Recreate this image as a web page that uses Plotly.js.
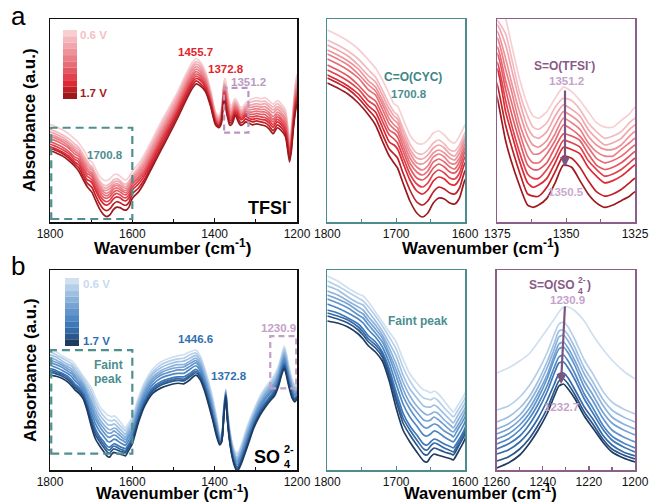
<!DOCTYPE html>
<html><head><meta charset="utf-8">
<script src="https://cdn.plot.ly/plotly-3.0.1.min.js"></script>
<style>html,body{margin:0;padding:0;background:#fff}#chart{width:651px;height:503px}</style>
</head><body><div id="chart"></div>
<script>
// ---------- colours (0.6 V -> 1.7 V) ----------
const redColors = ['#f7cfd2','#f4b9be','#f0a6ac','#ed939a','#e98088','#e66c75','#e35862','#e0434e','#dc2a35','#bf1f27','#9c1a1e'];
const blueColors = ['#cfe0f1','#b5cfe9','#9fc0e2','#8ab2da','#76a3d3','#6295cb','#4f87c3','#3f78b8','#336aa8','#2a5689','#1f3b5f'];

// ---------- TFSI- spectra: one row per wavenumber, 11 values (0.6 V ... 1.7 V) ----------
const tfsiWavenumber = [1800,1785,1770,1755,1740,1730,1720,1710,1703,1698,1690,1680,1670,1662,1654,1646,1638,1630,1622,1615,1608,1600,
  1585,1570,1550,1530,1510,1490,1470,1455,1445,1435,1422,1410,1398,1390,1384,1380,1377,
  1375,1372,1370,1367,1364,1362,1360,1357,1354,1351,1348,1345,1342,1339,1336,1333,1330,1327,1325,
  1318,1308,1298,1288,1278,1268,1258,1248,1238,1228,1222,1218,1214,1209,1204,1200];
const tfsiAbs = [
  [192,182,177,172,168,163,157,152,147,144,139],
  [187,177,172,167,163,158,152,147,142,139,134],
  [181,171,166,161,157,152,146,141,136,133,128],
  [173,163,157,153,148,144,137,133,128,124,119],
  [162,152,146,141,137,132,126,121,116,112,107],
  [154,145,140,135,131,127,121,116,110,104,97],
  [142,132,127,122,118,113,107,101,95,88,81],
  [128,118,113,108,103,98,92,87,80,73,66],
  [118,110,106,102,97,93,89,83,77,68,59],
  [116,107,103,99,94,90,85,79,73,64,54],
  [103,94,90,85,81,76,71,65,59,49,39],
  [87,78,73,69,64,59,54,48,42,32,21],
  [79,69,64,59,55,50,44,38,31,20,9],
  [78,68,63,58,52,47,42,35,28,17,5],
  [82,72,67,62,56,51,46,39,32,21,9],
  [89,79,74,69,65,60,54,48,41,30,19],
  [91,82,77,72,68,63,58,52,45,35,24],
  [87,78,74,69,65,60,55,49,43,33,23],
  [81,72,68,64,59,55,50,44,38,29,19],
  [79,71,66,62,58,53,49,43,37,28,18],
  [86,77,73,69,64,60,55,49,43,34,24],
  [97,89,85,82,78,74,70,65,59,51,42],
  [112,105,100,96,91,86,82,77,71,63,55],
  [132,126,120,114,109,103,98,93,88,81,75],
  [164,158,152,147,141,135,130,125,120,114,108],
  [197,191,185,179,174,168,163,158,153,146,140],
  [227,221,215,210,204,199,194,189,184,178,172],
  [258,252,247,242,236,231,226,221,217,211,205],
  [294,288,283,277,272,267,262,257,252,246,240],
  [317,311,306,301,295,290,285,280,276,270,264],
  [325,319,314,309,304,299,294,290,285,280,274],
  [319,314,309,304,299,294,290,285,281,275,270],
  [298,294,290,286,282,278,274,270,267,262,258],
  [262,258,255,252,248,245,242,239,236,233,229],
  [217,214,212,209,206,204,201,199,197,194,191],
  [209,206,204,202,199,197,195,192,190,188,185],
  [221,218,215,212,210,207,204,202,199,196,193],
  [252,249,246,244,241,238,236,233,231,228,225],
  [280,276,273,270,267,263,260,257,254,251,247],
  [285,274,272,269,266,262,259,255,252,245,239],
  [275,268,263,257,252,247,243,238,233,227,220],
  [264,258,253,247,243,238,233,228,224,218,211],
  [248,242,238,233,228,224,220,215,211,206,200],
  [236,231,226,222,218,213,209,205,201,196,191],
  [231,226,222,218,214,210,207,203,199,195,190],
  [230,225,221,217,214,210,207,203,200,195,191],
  [233,228,224,220,217,214,210,207,203,199,194],
  [239,235,231,227,223,220,217,213,210,206,201],
  [244,239,236,233,230,227,223,220,217,213,209],
  [242,238,234,231,228,225,222,219,216,212,208],
  [238,234,231,228,225,222,220,217,214,208,202],
  [233,228,225,222,219,217,214,211,208,202,196],
  [228,224,221,218,215,212,209,207,204,197,192],
  [226,221,218,216,213,210,207,204,201,195,190],
  [226,222,219,216,213,211,208,205,202,196,191],
  [229,224,221,218,216,213,210,207,204,198,193],
  [232,228,225,222,219,216,213,210,207,201,195],
  [235,230,227,224,221,218,215,212,209,203,197],
  [240,235,230,226,221,217,213,209,205,200,195],
  [244,238,232,227,222,217,212,207,202,197,191],
  [246,240,234,229,224,219,214,209,204,199,193],
  [244,238,232,227,222,217,212,207,202,197,191],
  [246,239,234,228,222,217,212,206,201,195,189],
  [240,233,228,222,216,211,205,200,195,189,183],
  [233,227,221,215,208,202,197,191,186,179,173],
  [240,234,228,223,217,212,207,202,197,191,185],
  [233,227,222,216,211,205,201,196,191,185,179],
  [221,215,210,204,199,193,188,183,178,172,167],
  [187,181,176,171,166,161,156,152,147,142,136],
  [160,156,151,147,142,138,134,130,126,121,116],
  [181,176,171,167,162,158,154,150,146,141,136],
  [227,222,218,213,208,204,199,195,191,186,181],
  [274,268,262,256,251,245,240,235,230,223,217],
  [294,288,282,275,269,263,258,252,247,240,233]
];

// ---------- SO4 2- spectra: one row per wavenumber, 11 values (0.6 V ... 1.7 V) ----------
const sulfateWavenumber = [1800,1785,1770,1755,1748,1740,1730,1720,1710,1700,1690,1680,1670,1660,1655,1650,1645,1640,1630,1620,1617,1610,1600,
  1585,1570,1550,1530,1510,1490,1475,1460,1446,1435,1425,1415,1405,1395,1388,1383,1378,1373,1369,1364,1358,1352,1346,1340,1333,
  1320,1305,1290,1275,1265,1255,1245,1238,1231,1226,1220,1212,1205,1200];
const sulfateAbs = [
  [194,189,184,179,175,171,166,160,157,154,149],
  [189,184,180,175,171,167,162,157,154,151,147],
  [182,178,173,169,166,162,157,152,150,147,143],
  [176,172,167,163,159,155,151,146,143,140,136],
  [174,169,165,160,156,152,147,141,138,135,131],
  [168,163,158,153,149,145,140,134,131,128,124],
  [158,154,149,145,141,137,133,128,125,122,118],
  [148,144,139,135,132,128,123,118,116,113,109],
  [138,133,127,122,117,113,107,101,97,94,89],
  [128,121,114,106,100,94,86,78,73,69,62],
  [111,103,95,88,81,74,66,57,52,47,40],
  [96,89,81,74,67,61,53,44,40,35,28],
  [87,79,72,64,58,51,44,35,30,25,18],
  [80,72,64,57,50,43,35,26,21,16,9],
  [79,71,63,55,49,42,34,25,20,15,8],
  [77,70,63,56,50,44,36,28,24,19,13],
  [79,72,65,58,53,46,39,31,27,22,16],
  [77,70,63,57,51,45,38,30,26,21,15],
  [69,62,56,50,45,39,33,26,22,18,13],
  [60,55,49,44,39,35,29,23,19,16,11],
  [58,53,47,42,38,33,28,22,18,15,10],
  [65,60,55,50,45,41,35,29,26,23,18],
  [77,72,67,62,58,53,48,42,39,36,31],
  [111,106,102,97,93,89,84,78,75,72,68],
  [137,133,128,124,120,116,111,106,103,100,96],
  [160,155,151,146,142,138,133,128,125,122,118],
  [172,167,162,157,153,149,144,138,135,132,127],
  [178,173,168,163,159,154,149,143,140,137,132],
  [182,177,172,167,162,158,152,146,143,140,135],
  [184,178,173,167,163,158,152,146,142,139,134],
  [189,184,178,173,169,164,159,152,149,146,141],
  [192,187,183,178,174,170,165,159,156,153,149],
  [182,178,173,169,165,161,156,151,148,145,141],
  [163,159,154,150,146,142,138,133,130,127,123],
  [139,135,130,126,122,118,114,109,106,103,99],
  [110,106,102,98,94,90,86,81,79,76,72],
  [75,72,68,64,62,58,55,51,48,46,43],
  [48,46,44,42,40,38,36,34,32,31,29],
  [48,47,45,43,42,41,39,37,36,35,34],
  [92,90,88,86,85,83,81,79,78,77,75],
  [125,124,122,121,120,119,117,116,115,114,113],
  [89,87,85,83,82,80,78,76,75,74,72],
  [58,56,53,51,49,47,45,42,41,39,37],
  [34,31,29,26,24,22,19,16,14,12,10],
  [20,17,14,11,9,6,3,-1,-2,-4,-7],
  [15,12,8,5,2,-1,-5,-9,-11,-13,-16],
  [20,17,13,10,7,4,0,-4,-6,-8,-11],
  [34,30,27,23,20,17,13,9,7,4,1],
  [63,59,55,51,48,44,40,36,33,31,27],
  [89,86,82,79,76,73,70,65,63,61,58],
  [113,109,106,102,99,96,92,88,86,83,80],
  [130,126,123,119,116,112,109,104,102,99,96],
  [139,135,132,128,125,121,118,113,111,108,105],
  [149,145,141,137,134,130,126,122,119,117,113],
  [165,161,157,153,150,147,143,138,136,134,130],
  [182,178,175,171,168,164,161,156,154,151,148],
  [199,195,191,187,183,179,175,170,168,165,161],
  [187,183,179,175,171,167,163,158,156,153,149],
  [165,161,157,153,150,147,143,138,136,134,130],
  [142,139,135,131,129,125,122,118,115,113,110],
  [132,129,126,122,120,117,114,110,108,106,103],
  [134,131,128,125,123,121,118,114,112,111,108]
];

// ---------- SO4 2- S=O band detail: one row per curve (0.6 V ... 1.7 V) ----------
const sulfateZoomWavenumber = [1260,1255,1250,1246,1242,1238,1235,1233,1231,1229,1226,1222,1218,1214,1210,1205,1200];
const sulfateZoomAbs = [
  [97,102,109,116,128,141,151,158,163,163,159,149,134,121,110,99,91],
  [60,64,73,84,99,118,136,146,148,143,130,110,95,79,68,61,56],
  [48,53,62,73,89,109,127,139,140,135,122,102,87,71,60,53,48],
  [41,46,55,67,83,103,121,133,135,129,116,96,81,65,53,46,41],
  [36,41,50,61,77,96,115,126,128,122,109,89,74,58,47,40,35],
  [31,36,45,56,72,92,111,121,123,117,104,83,68,52,40,33,28],
  [26,31,40,51,66,85,103,113,115,109,96,76,61,45,34,27,22],
  [21,26,34,45,60,79,97,107,108,102,90,71,56,41,30,23,18],
  [16,20,28,38,52,70,86,96,97,92,80,63,50,35,25,18,14],
  [9,13,21,31,45,62,79,89,91,86,75,58,45,31,21,15,11],
  [2,7,15,26,40,57,74,84,86,81,71,54,41,28,18,12,8]
];

// ---------- drawing ----------
const W = 651, H = 503;
const FONT = 'Liberation Sans, Arial, Helvetica, sans-serif';
const PX = x => x / W, PY = y => 1 - y / H;
const TEAL = '#4c8c8d', PURPLE = '#8a5f88';

const traces = [];
function column(table, i) { return table.map(r => r[i]); }
function addSpectra(xs, table, colors, ax, byCurve) {
  for (let i = 0; i < colors.length; i++) {
    traces.push({
      type: 'scatter', mode: 'lines', x: xs, y: byCurve ? table[i] : column(table, i),
      xaxis: 'x' + ax, yaxis: 'y' + ax, hoverinfo: 'skip',
      line: { color: colors[i], width: 1.7, shape: 'spline', smoothing: 0.6 }
    });
  }
}
addSpectra(tfsiWavenumber, tfsiAbs, redColors, '', false);
addSpectra(tfsiWavenumber, tfsiAbs, redColors, '2', false);
addSpectra(tfsiWavenumber, tfsiAbs, redColors, '3', false);
addSpectra(sulfateWavenumber, sulfateAbs, blueColors, '4', false);
addSpectra(sulfateWavenumber, sulfateAbs, blueColors, '5', false);
addSpectra(sulfateZoomWavenumber, sulfateZoomAbs, blueColors, '6', true);

function xAxis(x0, x1, range, dtick, minorDtick, color, anchor) {
  return {
    domain: [PX(x0), PX(x1)], range: range, anchor: anchor,
    showline: true, mirror: true, linecolor: color, linewidth: 1.5,
    ticks: 'inside', ticklen: 4, tickwidth: 1.2, tickcolor: color, dtick: dtick, tick0: range[1],
    minor: { ticks: 'inside', ticklen: 3, tickwidth: 1.2, tickcolor: color, dtick: minorDtick },
    showgrid: false, zeroline: false,
    tickfont: { family: FONT, size: 12, color: '#111' }
  };
}
function yAxis(top, bottom, range, color, anchor) {
  return {
    domain: [PY(bottom), PY(top)], range: range, anchor: anchor,
    showline: true, mirror: true, linecolor: color, linewidth: 1.5,
    ticks: '', showticklabels: false, showgrid: false, zeroline: false
  };
}

const layout = {
  width: W, height: H, margin: { l: 0, r: 0, t: 0, b: 0 },
  paper_bgcolor: '#fff', plot_bgcolor: '#fff', showlegend: false,
  xaxis:  xAxis(50, 297, [1800, 1200], 200, 100, '#111', 'y'),
  yaxis:  yAxis(19, 222, [-6.1, 405.6], '#111', 'x'),
  xaxis2: xAxis(327.3, 465, [1800, 1600], 100, 50, TEAL, 'y2'),
  yaxis2: yAxis(19, 222, [0, 203], TEAL, 'x2'),
  xaxis3: xAxis(497.3, 635, [1375, 1325], 25, 12.5, PURPLE, 'y3'),
  yaxis3: yAxis(19, 222, [183.4, 274.6], PURPLE, 'x3'),
  xaxis4: xAxis(50, 297, [1800, 1200], 200, 100, '#111', 'y4'),
  yaxis4: yAxis(270, 470, [-14.2, 329.7], '#111', 'x4'),
  xaxis5: xAxis(327.3, 465, [1800, 1600], 100, 50, TEAL, 'y5'),
  yaxis5: yAxis(270, 470, [0, 200], TEAL, 'x5'),
  xaxis6: xAxis(496.7, 635, [1260, 1200], 20, 10, PURPLE, 'y6'),
  yaxis6: yAxis(270, 470, [0, 200], PURPLE, 'x6'),
  shapes: [], annotations: []
};

// dashed highlight boxes (data coordinates)
function box(xr, yr, x0, x1, y0, y1, color, dash) {
  layout.shapes.push({ type: 'rect', xref: xr, yref: yr, x0, x1, y0, y1,
    line: { color: color, width: 2.2, dash: dash }, fillcolor: 'rgba(0,0,0,0)' });
}
box('x', 'y', 1797, 1600, 0, 185, '#4f8f90', '8px,5px');
box('x', 'y', 1377, 1318, 175, 266, '#b797c0', '6px,4px');
box('x4', 'y4', 1797, 1600, 14, 192, '#4f8f90', '8px,5px');
box('x4', 'y4', 1265, 1202, 126, 216, '#c4a0c8', '6px,4px');

// voltage colour scales
function colorScale(x0, x1, y0, y1, colors) {
  const h = (y1 - y0) / colors.length;
  colors.forEach((c, i) => layout.shapes.push({ type: 'rect', xref: 'paper', yref: 'paper',
    x0: PX(x0), x1: PX(x1), y0: PY(y0 + (i + 1) * h), y1: PY(y0 + i * h),
    line: { width: 0 }, fillcolor: c }));
}
colorScale(63, 77, 30, 99, redColors);
colorScale(65, 79, 278, 346, blueColors);

function txt(text, x, y, color, size, extra) {
  layout.annotations.push(Object.assign({ text, x: PX(x), y: PY(y), xref: 'paper', yref: 'paper',
    showarrow: false, xanchor: 'center', yanchor: 'middle',
    font: { family: FONT, size: size, color: color } }, extra || {}));
}
function arrow(x, y, ax, ay, color) {
  layout.annotations.push({ text: '', x: PX(x), y: PY(y), xref: 'paper', yref: 'paper',
    showarrow: true, ax: ax, ay: ay, arrowhead: 2, arrowsize: 0.9, arrowwidth: 2.2, arrowcolor: color });
}

// panel a
txt('a', 18, 16, '#000', 26);
txt('<b>Absorbance (a.u.)</b>', 30, 120, '#000', 17, { textangle: -90 });
txt('<b>Wavenumber (cm<sup>-1</sup>)</b>', 173, 247, '#000', 17);
txt('<b>Wavenumber (cm<sup>-1</sup>)</b>', 481, 247, '#000', 17);
txt('<b>0.6 V</b>', 78, 35, '#f4c0c4', 11.5, { xanchor: 'left' });
txt('<b>1.7 V</b>', 78, 93, '#a31c1c', 11.5, { xanchor: 'left' });
txt('<b>1700.8</b>', 105, 155, '#4c8e8f', 11.5);
txt('<b>1455.7</b>', 195, 52, '#e2242c', 11.5);
txt('<b>1372.8</b>', 226, 69, '#e2242c', 11.5);
txt('<b>1351.2</b>', 248.5, 82, '#b99ac2', 11.5);
txt('<b>TFSI<sup>-</sup></b>', 293, 206, '#000', 18, { xanchor: 'right' });
txt('<b>C=O(CYC)</b>', 413, 77, '#3e8587', 12);
txt('<b>1700.8</b>', 409, 94, '#4c8e8f', 11.5);
txt('<b>S=O(TFSI<sup>-</sup>)</b>', 564, 65, '#875a87', 12);
txt('<b>1351.2</b>', 566, 81, '#c3a3cb', 11.5);
txt('<b>1350.5</b>', 566, 192, '#c9aad0', 11.5);
arrow(565, 167, 0, -78, '#7b5581');

// panel b
txt('b', 18, 266, '#000', 26);
txt('<b>Absorbance (a.u.)</b>', 30, 370, '#000', 17, { textangle: -90 });
txt('<b>Wavenumber (cm<sup>-1</sup>)</b>', 173, 492, '#000', 16.5);
txt('<b>Wavenumber (cm<sup>-1</sup>)</b>', 481, 492, '#000', 16.5);
txt('<b>0.6 V</b>', 81, 284, '#c6dbef', 11.5, { xanchor: 'left' });
txt('<b>1.7 V</b>', 81, 341, '#2f6db3', 11.5, { xanchor: 'left' });
txt('<b>Faint</b>', 108, 365, '#4c8e8f', 12);
txt('<b>peak</b>', 108, 379, '#4c8e8f', 12);
txt('<b>1446.6</b>', 195, 339, '#3270b0', 11.5);
txt('<b>1372.8</b>', 229, 376, '#3270b0', 11.5);
txt('<b>1230.9</b>', 278, 328, '#c4a0c8', 11.5);
txt('<b>SO</b>', 282, 457, '#000', 18, { xanchor: 'right' });
txt('<b>2-</b>', 282, 449, '#000', 11, { xanchor: 'left' });
txt('<b>4</b>', 282, 464, '#000', 11, { xanchor: 'left' });
txt('<b>Faint peak</b>', 418, 321, '#4c8e8f', 12);
txt('<b>S=O(SO</b>', 577, 285, '#875a87', 12, { xanchor: 'right' });
txt('<b>2-</b>', 576, 280, '#875a87', 8.5, { xanchor: 'left' });
txt('<b>4</b>', 576, 291, '#875a87', 8.5, { xanchor: 'left' });
txt('<b>)</b>', 585, 285, '#875a87', 12, { xanchor: 'left' });
txt('<b>1230.9</b>', 567, 300, '#c3a3cb', 11.5);
txt('<b>1232.7</b>', 561, 407, '#c3a3cb', 11.5);
arrow(561, 384, 4, -79, '#7b5581');

Plotly.newPlot('chart', traces, layout, { staticPlot: true, displayModeBar: false });
</script>
</body></html>
